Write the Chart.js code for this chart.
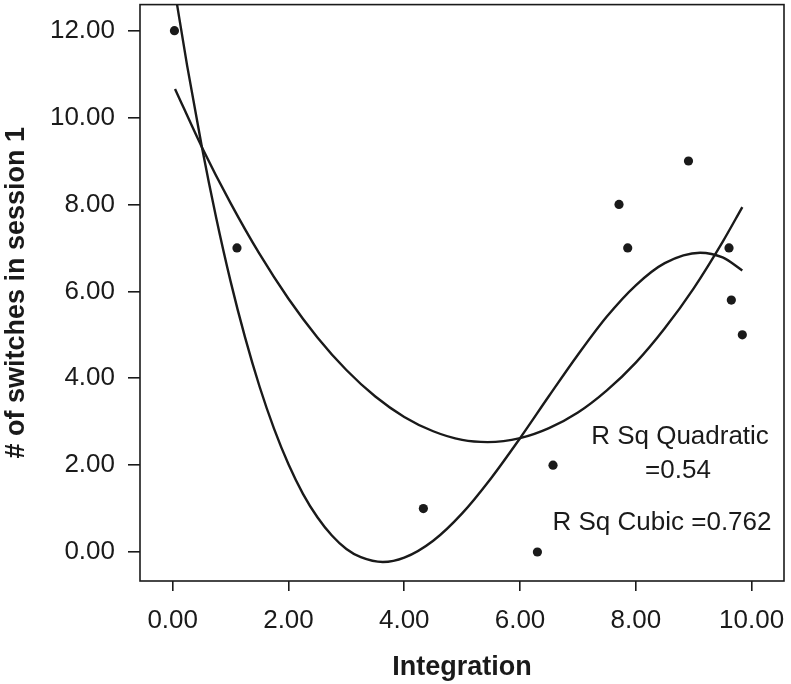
<!DOCTYPE html>
<html>
<head>
<meta charset="utf-8">
<script src="https://cdn.jsdelivr.net/npm/chart.js@4/dist/chart.umd.min.js"></script>
<style>
  html, body { margin: 0; padding: 0; background: #ffffff; }
  #wrap { width: 791px; height: 684px; }
</style>
</head>
<body>
<div id="wrap"><canvas id="c" width="791" height="684"></canvas></div>
<script>
// ---- data ----
const xTickValues = [0, 2, 4, 6, 8, 10];
const yTickValues = [0, 2, 4, 6, 8, 10, 12];

const integration = [0.03, 1.11, 4.33, 6.30, 6.57, 7.71, 7.86, 8.91, 9.61, 9.65, 9.84];
const switches    = [12, 7, 1, 0, 2, 8, 7, 9, 7, 5.8, 5];

// quadratic fit line
const quadX = [0.04, 0.5, 1.0, 1.5, 2.0, 2.5, 3.0, 3.5, 4.0, 4.5, 5.0, 5.44, 6.0, 6.5, 7.0, 7.5, 8.0, 8.5, 9.0, 9.5, 9.84];
const quadY = [10.66, 9.33, 8.03, 6.86, 5.83, 4.94, 4.19, 3.58, 3.11, 2.78, 2.58, 2.53, 2.62, 2.85, 3.21, 3.72, 4.36, 5.15, 6.07, 7.14, 7.94];

// cubic fit line
const cubicX = [0.04, 0.25, 0.5, 0.75, 1.0, 1.25, 1.5, 1.75, 2.0, 2.25, 2.5, 2.75, 3.0, 3.25, 3.63, 4.0, 4.5, 5.0, 5.5, 6.0, 6.5, 7.0, 7.5, 8.0, 8.5, 9.11, 9.5, 9.84];
const cubicY = [12.89, 11.19, 9.35, 7.70, 6.23, 4.94, 3.81, 2.84, 2.02, 1.34, 0.80, 0.38, 0.07, -0.12, -0.23, -0.13, 0.26, 0.89, 1.70, 2.62, 3.59, 4.54, 5.42, 6.14, 6.65, 6.89, 6.78, 6.48];

const xTitle = 'Integration';
const yTitle = '# of switches in session 1';
const annotations = ['R Sq Quadratic', '=0.54', 'R Sq Cubic =0.762'];

// ---- build chart ----
const toXY = (xs, ys) => xs.map((x, i) => ({ x: x, y: ys[i] }));
const FONT = '"Liberation Sans", Arial, Helvetica, sans-serif';
const INK = '#1a1a1a';

const framePlugin = {
  id: 'frameAndNotes',
  afterDraw(chart) {
    const ctx = chart.ctx;
    const a = chart.chartArea;
    ctx.save();
    ctx.strokeStyle = INK;
    ctx.lineWidth = 1.6;
    ctx.strokeRect(a.left, a.top, a.right - a.left, a.bottom - a.top);
    ctx.fillStyle = INK;
    ctx.font = '26px ' + FONT;
    ctx.textAlign = 'center';
    ctx.textBaseline = 'middle';
    ctx.fillText(annotations[0], 680, 437);
    ctx.fillText(annotations[1], 678, 471);
    ctx.fillText(annotations[2], 662, 523);
    ctx.restore();
  }
};

new Chart(document.getElementById('c'), {
  type: 'scatter',
  data: {
    datasets: [
      {
        type: 'line',
        data: toXY(quadX, quadY),
        borderColor: INK,
        borderWidth: 2.4,
        pointRadius: 0,
        fill: false,
        cubicInterpolationMode: 'monotone'
      },
      {
        type: 'line',
        data: toXY(cubicX, cubicY),
        borderColor: INK,
        borderWidth: 2.4,
        pointRadius: 0,
        fill: false,
        cubicInterpolationMode: 'monotone'
      },
      {
        type: 'scatter',
        data: toXY(integration, switches),
        backgroundColor: INK,
        borderWidth: 0,
        pointRadius: 4.6
      }
    ]
  },
  options: {
    responsive: false,
    animation: false,
    events: [],
    layout: { padding: { top: 1, right: 7, left: 0, bottom: 0 } },
    plugins: { legend: { display: false }, tooltip: { enabled: false } },
    scales: {
      x: {
        type: 'linear',
        min: -0.565,
        max: 10.56,
        afterBuildTicks: (s) => { s.ticks = xTickValues.map(v => ({ value: v })); },
        afterFit: (s) => { s.height = 103; s.paddingLeft = 0; s.paddingRight = 0; },
        ticks: {
          color: INK,
          font: { family: FONT, size: 26 },
          padding: 14,
          maxRotation: 0,
          autoSkip: false,
          callback: (v) => Number(v).toFixed(2)
        },
        grid: { drawOnChartArea: false, drawTicks: true, tickLength: 10, color: INK, lineWidth: 1.6 },
        border: { display: false },
        title: {
          display: true,
          text: xTitle,
          color: INK,
          font: { family: FONT, size: 27, weight: 'bold' },
          padding: { top: 0, bottom: 0 }
        }
      },
      y: {
        type: 'linear',
        min: -0.667,
        max: 12.60,
        afterBuildTicks: (s) => { s.ticks = yTickValues.map(v => ({ value: v })); },
        afterFit: (s) => { s.width = 140; s.paddingTop = 0; s.paddingBottom = 0; },
        ticks: {
          color: INK,
          font: { family: FONT, size: 26 },
          padding: 13,
          autoSkip: false,
          callback: (v) => Number(v).toFixed(2)
        },
        grid: { drawOnChartArea: false, drawTicks: true, tickLength: 12, color: INK, lineWidth: 1.6 },
        border: { display: false },
        title: {
          display: true,
          text: yTitle,
          color: INK,
          font: { family: FONT, size: 27, weight: 'bold' },
          padding: { top: 0, bottom: 0 }
        }
      }
    }
  },
  plugins: [framePlugin]
});
</script>
</body>
</html>
